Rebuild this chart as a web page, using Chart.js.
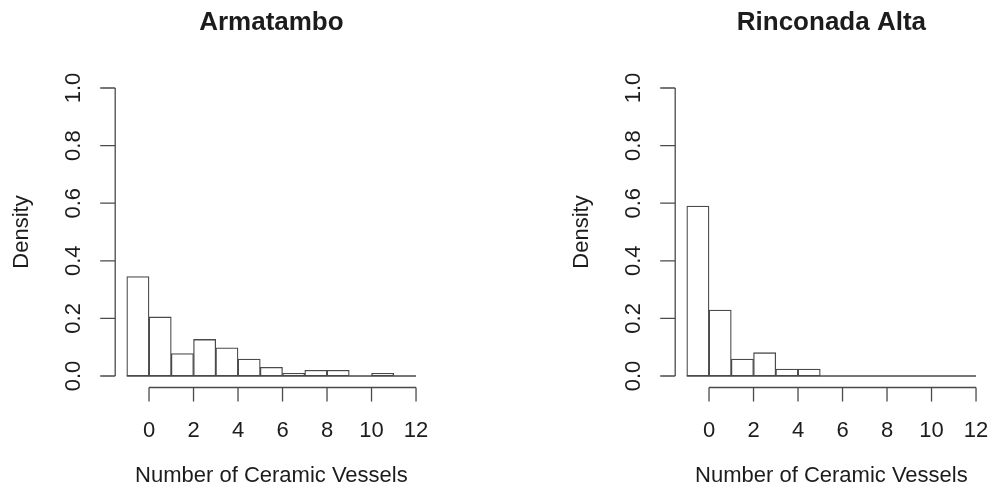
<!DOCTYPE html>
<html>
<head>
<meta charset="utf-8">
<title>Ceramic vessels per burial</title>
<script src="https://cdn.jsdelivr.net/npm/chart.js@4/dist/chart.umd.min.js"></script>
<style>
  html, body { margin: 0; padding: 0; background: #fff; }
  #wrap { position: relative; width: 990px; height: 496px; overflow: hidden; }
  .panel { position: absolute; top: 0; height: 496px; }
  #left { left: 0; width: 560px; }
  #right { left: 560px; width: 430px; }
</style>
</head>
<body>
<div id="wrap">
  <div class="panel" id="left"><canvas id="armatambo" width="560" height="496"></canvas></div>
  <div class="panel" id="right"><canvas id="rinconada" width="430" height="496"></canvas></div>
</div>
<script>
// histogram bins of width 1, centres from -0.5 to 11.5
const binCenters = [-0.5, 0.5, 1.5, 2.5, 3.5, 4.5, 5.5, 6.5, 7.5, 8.5, 9.5, 10.5, 11.5];
const binRange = [-1, 12];

// density per bin
const armatamboDensity = [0.345, 0.205, 0.078, 0.127, 0.098, 0.059, 0.030, 0.009, 0.020, 0.020, 0, 0.009, 0];
const rinconadaDensity = [0.590, 0.229, 0.059, 0.081, 0.024, 0.024, 0, 0, 0, 0, 0, 0, 0];

const xTicks = [0, 2, 4, 6, 8, 10, 12];
const yTicks = [0, 0.2, 0.4, 0.6, 0.8, 1.0];
const yTickLabels = ['0.0', '0.2', '0.4', '0.6', '0.8', '1.0'];

const xTitle = 'Number of Ceramic Vessels';
const yTitle = 'Density';

const INK = '#1c1c1c';
const LINE = '#4a4a4a';
const FONT = '"Liberation Sans", Arial, Helvetica, sans-serif';

// base-graphics style axes: lines only span the tick range, sitting on the plot edges
const rAxes = {
  id: 'rAxes',
  afterDraw(chart, args, opts) {
    const { ctx, chartArea: area } = chart;
    const xs = chart.scales.x;
    const ys = chart.scales.y;
    ctx.save();
    ctx.strokeStyle = LINE;
    ctx.lineWidth = 1.3;
    ctx.fillStyle = INK;

    // y axis
    const yTop = ys.getPixelForValue(yTicks[yTicks.length - 1]);
    const yBot = ys.getPixelForValue(yTicks[0]);
    ctx.beginPath();
    ctx.moveTo(area.left, yTop);
    ctx.lineTo(area.left, yBot);
    yTicks.forEach(v => {
      const py = ys.getPixelForValue(v);
      ctx.moveTo(area.left - 15, py);
      ctx.lineTo(area.left, py);
    });
    // x axis
    const xL = xs.getPixelForValue(xTicks[0]);
    const xR = xs.getPixelForValue(xTicks[xTicks.length - 1]);
    ctx.moveTo(xL, area.bottom);
    ctx.lineTo(xR, area.bottom);
    xTicks.forEach(v => {
      const px = xs.getPixelForValue(v);
      ctx.moveTo(px, area.bottom);
      ctx.lineTo(px, area.bottom + 14);
    });
    ctx.stroke();

    ctx.font = '22px ' + FONT;
    ctx.textAlign = 'center';
    ctx.textBaseline = 'alphabetic';
    xTicks.forEach(v => {
      ctx.fillText(String(v), xs.getPixelForValue(v), area.bottom + 49);
    });
    const cx = (area.left + area.right) / 2;
    ctx.fillText(xTitle, cx, area.bottom + 94);

    yTicks.forEach((v, i) => {
      ctx.save();
      ctx.translate(area.left - 35, ys.getPixelForValue(v));
      ctx.rotate(-Math.PI / 2);
      ctx.fillText(yTickLabels[i], 0, 0);
      ctx.restore();
    });
    ctx.save();
    ctx.translate(area.left - 87, (yTop + yBot) / 2);
    ctx.rotate(-Math.PI / 2);
    ctx.fillText(yTitle, 0, 0);
    ctx.restore();

    ctx.font = 'bold 26px ' + FONT;
    ctx.fillText(opts.title, cx, 30);
    ctx.restore();
  }
};

function histogram(canvasId, title, density, rightPad) {
  return new Chart(document.getElementById(canvasId), {
    type: 'bar',
    data: {
      datasets: [
        {
          type: 'bar',
          data: binCenters.map((c, i) => ({ x: c, y: density[i] })),
          backgroundColor: '#ffffff',
          borderColor: LINE,
          borderWidth: 1.3,
          borderSkipped: false,
          barPercentage: 1,
          categoryPercentage: 1,
          grouped: false,
          order: 1
        },
        {
          // bottom edge of the empty bins
          type: 'line',
          data: binRange.map(x => ({ x: x, y: 0 })),
          borderColor: LINE,
          borderWidth: 1.3,
          pointRadius: 0,
          order: 2
        }
      ]
    },
    options: {
      responsive: false,
      animation: false,
      layout: { padding: { left: 115.2, right: rightPad, top: 76.5, bottom: 108.5 } },
      scales: {
        x: { type: 'linear', min: -1.52, max: 12.52, offset: false, display: false },
        y: { type: 'linear', min: -0.04, max: 1.04, display: false }
      },
      plugins: {
        legend: { display: false },
        tooltip: { enabled: false },
        rAxes: { title: title }
      }
    },
    plugins: [rAxes]
  });
}

histogram('armatambo', 'Armatambo', armatamboDensity, 132.4);
histogram('rinconada', 'Rinconada Alta', rinconadaDensity, 2.4);
</script>
</body>
</html>
